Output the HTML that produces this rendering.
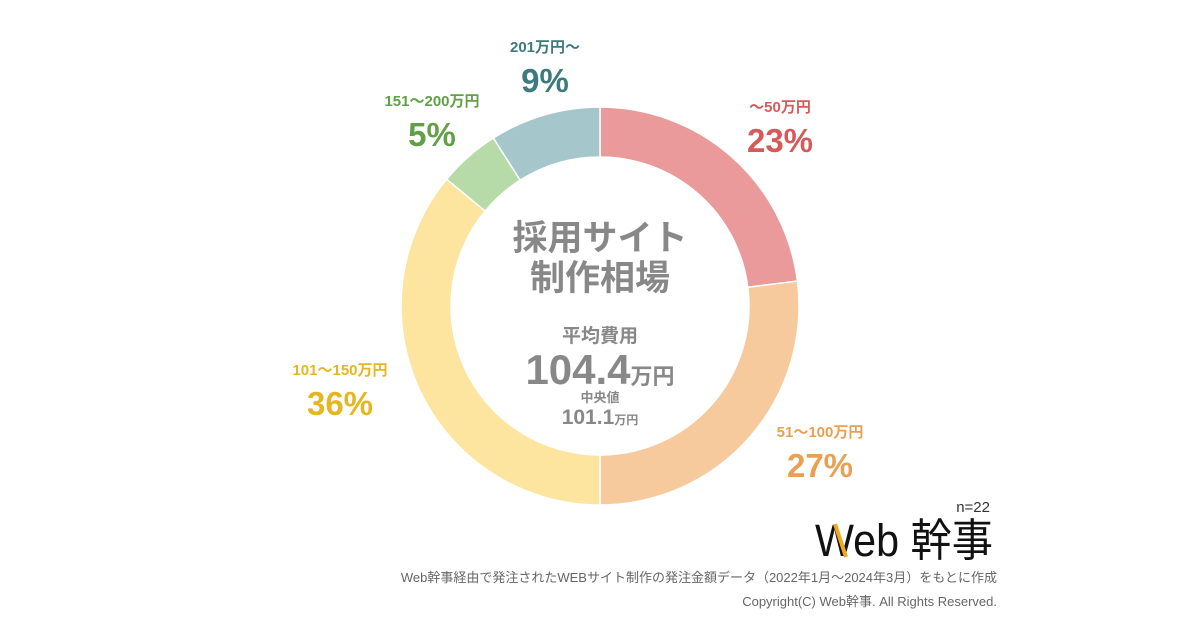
<!DOCTYPE html>
<html><head><meta charset="utf-8">
<style>
body{margin:0;background:#fff;}
svg{display:block;font-family:"Liberation Sans","Noto Sans CJK JP",sans-serif;}
</style></head>
<body>
<svg width="1200" height="630" viewBox="0 0 1200 630">
<g id="slices"></g>
<g id="labels"></g>
<g fill="#888" font-weight="bold" text-anchor="middle">
<text x="600" y="250" font-size="35">採用サイト</text>
<text x="600" y="290" font-size="35">制作相場</text>
<text x="600" y="342" font-size="19">平均費用</text>
<text x="600" y="384" font-size="42">104.4<tspan font-size="22">万円</tspan></text>
<text x="600" y="402" font-size="13">中央値</text>
<text x="600" y="424" font-size="21">101.1<tspan font-size="12">万円</tspan></text>
</g>
<text x="990" y="512" font-size="15" fill="#333" text-anchor="end">n=22</text>
<g>
<text x="993" y="556" font-size="45" fill="#111" text-anchor="end" textLength="178" lengthAdjust="spacingAndGlyphs">Web 幹事</text>
<line x1="835" y1="524" x2="846" y2="557" stroke="#f0a81e" stroke-width="4"/>
</g>
<text x="997" y="582" font-size="13" fill="#666" text-anchor="end">Web幹事経由で発注されたWEBサイト制作の発注金額データ（2022年1月～2024年3月）をもとに作成</text>
<text x="997" y="606" font-size="13" fill="#666" text-anchor="end">Copyright(C) Web幹事. All Rights Reserved.</text>
</svg>
<script>
const categories=["～50万円","51～100万円","101～150万円","151～200万円","201万円～"];
const values=[23,27,36,5,9];
const fills=["#ea9a9a","#f6ca9d","#fde59f","#b7dba8","#a5c7cc"];
const labelColors=["#d65a5a","#e9a052","#e6b620","#62a048","#3d7a80"];
const labelPos=[[780,112],[820,437],[340,375],[432,106],[545,52]];
const cx=600,cy=306,R=199,r=149;
const ns="http://www.w3.org/2000/svg";
const total=values.reduce((a,b)=>a+b,0);
function pt(rad,a){return [cx+rad*Math.sin(a),cy-rad*Math.cos(a)];}
let acc=0;
const gS=document.getElementById('slices'),gL=document.getElementById('labels');
values.forEach((v,i)=>{
 const a0=acc/total*2*Math.PI;acc+=v;const a1=acc/total*2*Math.PI;
 const large=(a1-a0)>Math.PI?1:0;
 const [x0,y0]=pt(R,a0),[x1,y1]=pt(R,a1),[x2,y2]=pt(r,a1),[x3,y3]=pt(r,a0);
 const p=document.createElementNS(ns,'path');
 p.setAttribute('d',`M${x0},${y0}A${R},${R} 0 ${large} 1 ${x1},${y1}L${x2},${y2}A${r},${r} 0 ${large} 0 ${x3},${y3}Z`);
 p.setAttribute('fill',fills[i]);p.setAttribute('stroke','#fff');p.setAttribute('stroke-width','1.5');
 
 
 gS.appendChild(p);
 const [lx,ly]=labelPos[i];
 const t=document.createElementNS(ns,'text');
 t.setAttribute('x',lx);t.setAttribute('y',ly);t.setAttribute('text-anchor','middle');
 t.setAttribute('fill',labelColors[i]);t.setAttribute('font-weight','bold');t.setAttribute('font-size','15');
 t.textContent=categories[i];
 
 
 gL.appendChild(t);
 const t2=document.createElementNS(ns,'text');
 t2.setAttribute('x',lx);t2.setAttribute('y',ly+40);t2.setAttribute('text-anchor','middle');
 t2.setAttribute('fill',labelColors[i]);t2.setAttribute('font-weight','bold');t2.setAttribute('font-size','33');
 t2.textContent=v+'%';
 
 
 gL.appendChild(t2);
});
</script>
</body></html>
